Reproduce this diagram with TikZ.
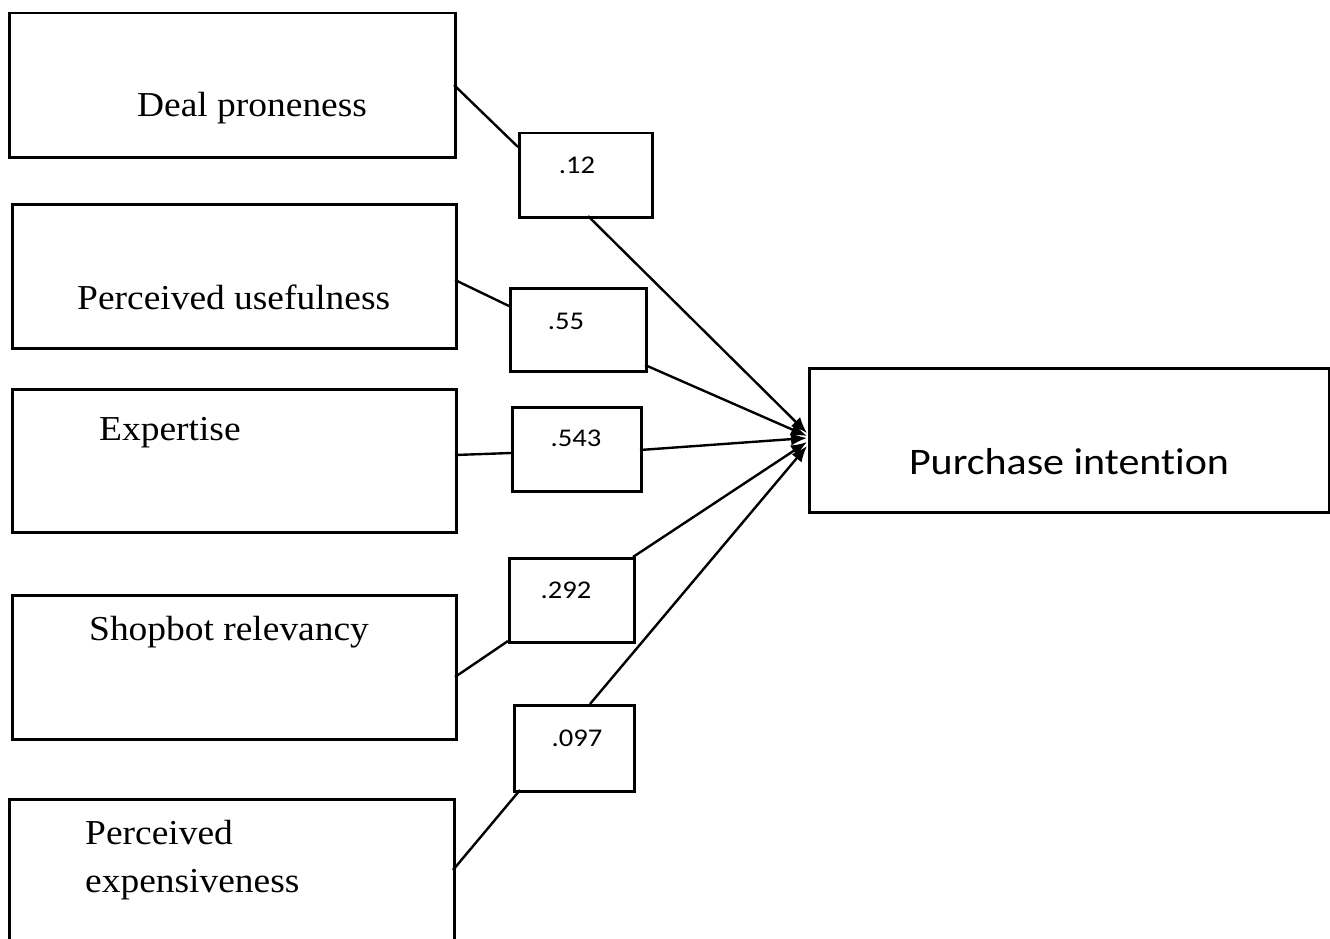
\documentclass[tikz,border=0pt]{standalone}
\usepackage{fontspec}
\setmainfont{Liberation Serif}[FakeStretch=1.07]
\newfontfamily\calib{Carlito}[FakeStretch=1.12,Ligatures=NoCommon]
\usetikzlibrary{arrows.meta}
\tikzset{
  box/.style={draw, line width=2.5pt, rectangle, inner sep=0pt, anchor=north west},
  lbl/.style={font=\fontsize{35}{42}\selectfont, anchor=base west, inner sep=0pt},
  coef/.style={font=\calib\fontsize{25.5}{30}\selectfont, anchor=base, inner sep=0pt},
  link/.style={line width=2.4pt},
  arr/.style={line width=2.4pt, -{Latex[length=16pt,width=13pt]}}
}
\begin{document}
\begin{tikzpicture}[x=1pt,y=-1pt]
\useasboundingbox (0,0) rectangle (1330,939);
\clip (0,0) rectangle (1330,939);
% predictor boxes
\node[box, minimum width=446pt, minimum height=144pt] (dp) at (8,12) {};
\node[box, minimum width=444pt, minimum height=144pt] (pu) at (11,203) {};
\node[box, minimum width=444pt, minimum height=143pt] (ex) at (11,388) {};
\node[box, minimum width=444pt, minimum height=144pt] (sr) at (11,594) {};
\node[box, minimum width=445pt, minimum height=160pt] (pe) at (8,798) {};
% outcome box
\node[box, minimum width=520pt, minimum height=144pt] (pi) at (808,367) {};
% coefficient boxes
\node[box, minimum width=133pt, minimum height=84pt] (b1) at (518,132) {};
\node[box, minimum width=136pt, minimum height=83pt] (b2) at (509,287) {};
\node[box, minimum width=129pt, minimum height=84pt] (b3) at (511,406) {};
\node[box, minimum width=125pt, minimum height=84pt] (b4) at (508,557) {};
\node[box, minimum width=120pt, minimum height=86pt] (b5) at (513,704) {};
% texts
\node[lbl] (tdp) at (137,117) {Deal proneness};
\node[lbl] (tpu) at (77,309) {Perceived usefulness};
\node[lbl] (tex) at (99,440) {Expertise};
\node[lbl] (tsr) at (89,640) {Shopbot relevancy};
\node[lbl] (tpe1) at (85,844) {Perceived};
\node[lbl] (tpe2) at (85,892) {expensiveness};
\node[font=\calib\fontsize{37.5}{44}\selectfont, anchor=base, inner sep=0pt] (tpi) at (1069,474) {Purchase intention};
\node[coef] (t1) at (577,173) {.12};
\node[coef] (t2) at (566,329) {.55};
\node[coef] (t3) at (576,446) {.543};
\node[coef] (t4) at (566,598) {.292};
\node[coef] (t5) at (577,746) {.097};
% connector end points
\coordinate (dpR) at (454,85);   \coordinate (b1L) at (518,147);
\coordinate (puR) at (455,280);  \coordinate (b2L) at (509,306);
\coordinate (exR) at (455,455);  \coordinate (b3L) at (511,453);
\coordinate (srR) at (455,677);  \coordinate (b4L) at (508,641);
\coordinate (peR) at (453,870);  \coordinate (b5L) at (520,790);
\coordinate (b1B) at (588,216);  \coordinate (p1) at (807,433);
\coordinate (b2R) at (645,365);  \coordinate (p2) at (807,436);
\coordinate (b3R) at (640,450);  \coordinate (p3) at (807,438);
\coordinate (b4T) at (633,557);  \coordinate (p4) at (807,442);
\coordinate (b5T) at (590,704);  \coordinate (p5) at (807,446);
% connectors
\draw[link] (dpR) -- (b1L);
\draw[link] (puR) -- (b2L);
\draw[link] (exR) -- (b3L);
\draw[link] (srR) -- (b4L);
\draw[link] (peR) -- (b5L);
\draw[arr] (b1B) -- (p1);
\draw[arr] (b2R) -- (p2);
\draw[arr] (b3R) -- (p3);
\draw[arr] (b4T) -- (p4);
\draw[arr] (b5T) -- (p5);
\end{tikzpicture}
\end{document}
